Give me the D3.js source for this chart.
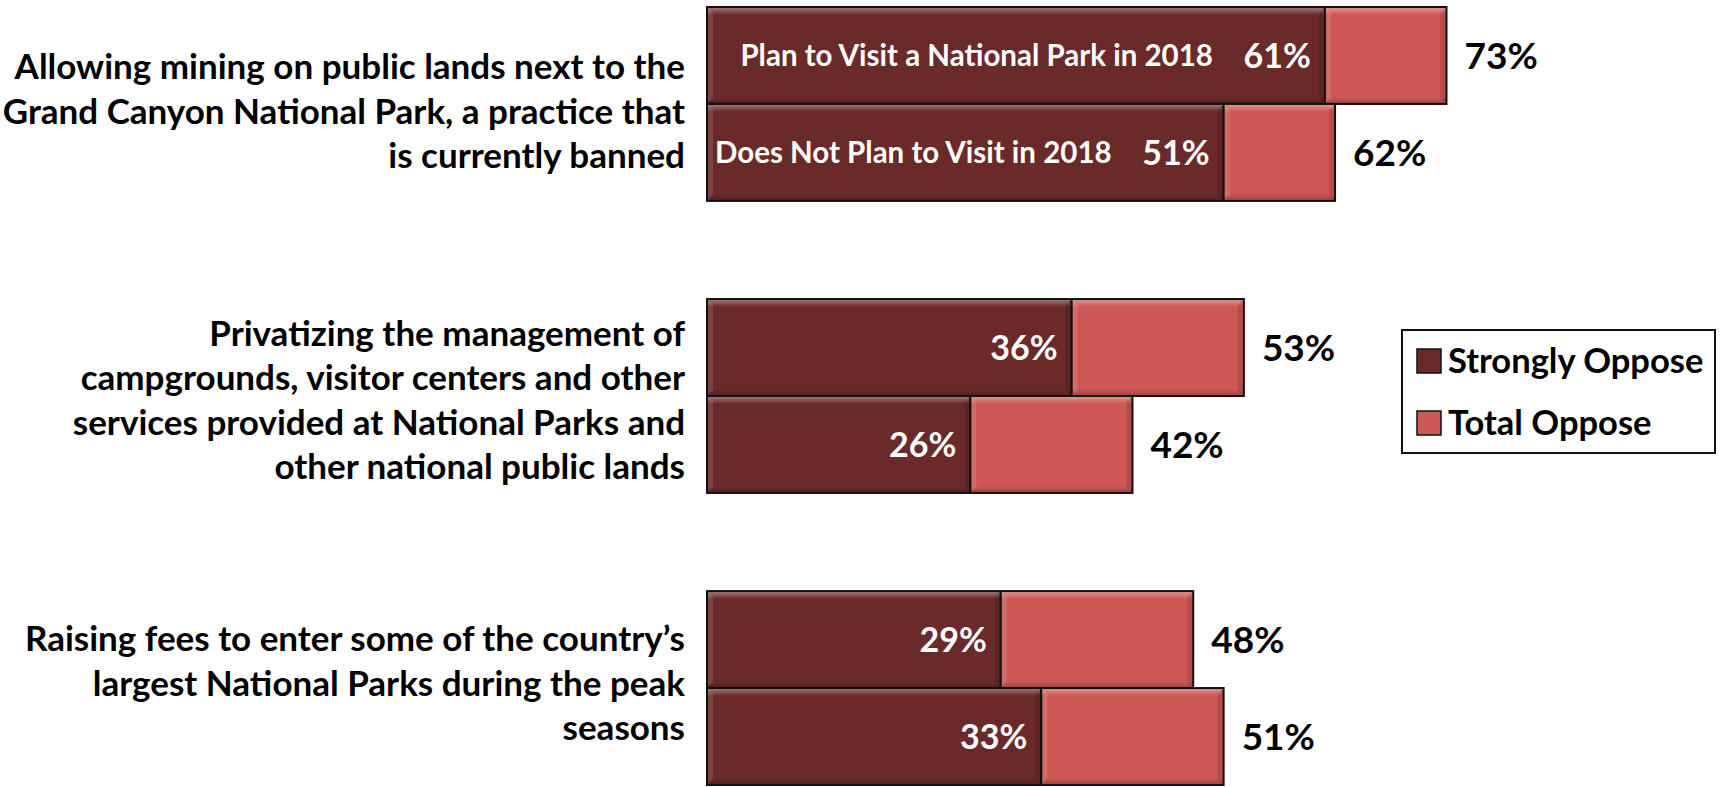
<!DOCTYPE html>
<html>
<head>
<meta charset="utf-8">
<script src="https://cdn.jsdelivr.net/npm/d3@7"></script>
<style>
  html, body { margin: 0; padding: 0; background: #fff; }
  svg { display: block; }
  text { font-family: Lato, "Open Sans", sans-serif; font-weight: bold; }
</style>
</head>
<body>
<svg id="chart" width="1723" height="787"></svg>
<script>
// ---- data ----
const categories = [
  "Allowing mining on public lands next to the Grand Canyon National Park, a practice that is currently banned",
  "Privatizing the management of campgrounds, visitor centers and other services provided at National Parks and other national public lands",
  "Raising fees to enter some of the country’s largest National Parks during the peak seasons"
];
const categoryLines = [
  ["Allowing mining on public lands next to the", "Grand Canyon National Park, a practice that", "is currently banned"],
  ["Privatizing the management of", "campgrounds, visitor centers and other", "services provided at National Parks and", "other national public lands"],
  ["Raising fees to enter some of the country’s", "largest National Parks during the peak", "seasons"]
];
const groups = ["Plan to Visit a National Park in 2018", "Does Not Plan to Visit in 2018"];
const stronglyPlan    = [61, 36, 29];
const stronglyNotPlan = [51, 26, 33];
const totalPlan       = [73, 53, 48];
const totalNotPlan    = [62, 42, 51];
const seriesNames = ["Strongly Oppose", "Total Oppose"];

// ---- layout constants ----
const labelShift = [7, 4, -5];

// ---- build rows ----
const rows = [];
categories.forEach((c, i) => {
  rows.push({cat: c, grp: groups[0], strong: stronglyPlan[i], total: totalPlan[i], ci: i, gi: 0});
  rows.push({cat: c, grp: groups[1], strong: stronglyNotPlan[i], total: totalNotPlan[i], ci: i, gi: 1});
});

const colors = { strong: "#6b2a2a", total: "#cd5855" };

const svg = d3.select("#chart");
const x = d3.scaleLinear().domain([0, 100]).range([707, 1720]);
const y0 = d3.scaleBand().domain(categories).range([7, 785]).paddingInner(0.336).paddingOuter(0);
const y1 = d3.scaleBand().domain(groups).range([0, y0.bandwidth()]);

const defs = svg.append("defs");
const gv = defs.append("linearGradient").attr("id", "bevelV").attr("x1", 0).attr("y1", 0).attr("x2", 0).attr("y2", 1);
gv.append("stop").attr("offset", "0%").attr("stop-color", "#fff").attr("stop-opacity", 0.4);
gv.append("stop").attr("offset", "8%").attr("stop-color", "#fff").attr("stop-opacity", 0.0);
gv.append("stop").attr("offset", "93%").attr("stop-color", "#000").attr("stop-opacity", 0.0);
gv.append("stop").attr("offset", "100%").attr("stop-color", "#000").attr("stop-opacity", 0.25);

function segment(g, x0v, x1v, yTop, h, fill) {
  const xa = x(x0v), xb = x(x1v);
  g.append("rect").attr("x", xa).attr("y", yTop).attr("width", xb - xa).attr("height", h).attr("fill", fill);
  g.append("rect").attr("x", xa).attr("y", yTop).attr("width", xb - xa).attr("height", h).attr("fill", "url(#bevelV)");
  const b = 6;
  g.append("polygon").attr("points", [[xa, yTop], [xa + b, yTop + b], [xa + b, yTop + h - b], [xa, yTop + h]].join(" "))
    .attr("fill", "#fff").attr("fill-opacity", 0.12);
  g.append("polygon").attr("points", [[xb, yTop], [xb - b, yTop + b], [xb - b, yTop + h - b], [xb, yTop + h]].join(" "))
    .attr("fill", "#000").attr("fill-opacity", 0.12);
  g.append("rect").attr("x", xa).attr("y", yTop).attr("width", xb - xa).attr("height", h)
    .attr("fill", "none").attr("stroke", "#111").attr("stroke-width", 2);
}

const barsG = svg.append("g");
rows.forEach(r => {
  const yTop = y0(r.cat) + y1(r.grp);
  const h = y1.bandwidth();
  const g = barsG.append("g");
  segment(g, 0, r.strong, yTop, h, colors.strong);
  segment(g, r.strong, r.total, yTop, h, colors.total);
  const cy = yTop + h / 2;
  g.append("text").attr("x", x(r.strong) - 14).attr("y", cy).attr("dy", "0.36em")
    .attr("text-anchor", "end").attr("fill", "#fff").attr("font-size", 34).text(r.strong + "%");
  g.append("text").attr("x", x(r.total) + 18).attr("y", cy).attr("dy", "0.36em")
    .attr("text-anchor", "start").attr("fill", "#000").attr("font-size", 37).text(r.total + "%");
  if (r.ci === 0) {
    g.append("text").attr("x", x(r.strong) - 112).attr("y", cy).attr("dy", "0.36em")
      .attr("text-anchor", "end").attr("fill", "#fff").attr("font-size", 29.5).text(r.grp);
  }
});

// category labels
const labG = svg.append("g");
categories.forEach((c, i) => {
  const lines = categoryLines[i];
  const lh = 44.5;
  const cy = y0(c) + y0.bandwidth() / 2 + labelShift[i];
  const t = labG.append("text").attr("text-anchor", "end").attr("fill", "#000").attr("font-size", 35);
  lines.forEach((ln, k) => {
    t.append("tspan").attr("x", 685).attr("y", cy + (k - (lines.length - 1) / 2) * lh).attr("dy", "0.36em").text(ln);
  });
});

// legend
const lg = svg.append("g");
lg.append("rect").attr("x", 1402).attr("y", 330).attr("width", 313).attr("height", 123)
  .attr("fill", "#fff").attr("stroke", "#111").attr("stroke-width", 2);
seriesNames.forEach((s, i) => {
  const cy = 361 + i * 62;
  const fill = i === 0 ? colors.strong : colors.total;
  lg.append("rect").attr("x", 1417).attr("y", cy - 12).attr("width", 24).attr("height", 24)
    .attr("fill", fill).attr("stroke", "#111").attr("stroke-width", 1.5);
  lg.append("text").attr("x", 1448).attr("y", cy).attr("dy", "0.36em").attr("fill", "#000")
    .attr("font-size", 34.5).text(s);
});
</script>
</body>
</html>
